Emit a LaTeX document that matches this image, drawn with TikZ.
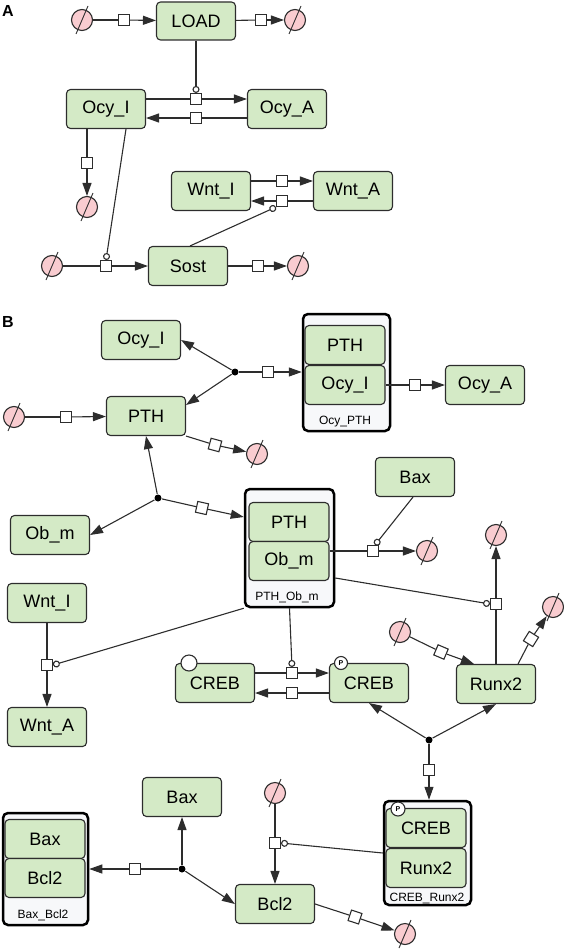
\documentclass[tikz,border=0pt]{standalone}
\usepackage{fontspec}
\setmainfont{Liberation Sans}
\usetikzlibrary{arrows.meta}
\definecolor{spgreen}{RGB}{212,234,198}
\definecolor{sinkpink}{RGB}{249,204,208}
\definecolor{cxfill}{RGB}{247,248,250}
\definecolor{edge}{RGB}{45,45,45}
\begin{document}
\begin{tikzpicture}[x=1pt,y=-1pt,line width=1.1pt,draw=edge,
  >={Triangle[length=13pt,width=9pt]},
  spec/.style={draw=edge,fill=spgreen,rounded corners=4pt,minimum width=79pt,minimum height=39pt,inner sep=0pt,font=\fontsize{18}{20}\selectfont},
  inner/.style={spec,minimum width=80pt},
  cplx/.style={draw=black,fill=cxfill,line width=2.5pt,rectangle,rounded corners=5pt,inner sep=0pt},
  cxlab/.style={inner sep=0pt,font=\fontsize{12}{13}\selectfont},
  sink/.style={circle,draw=edge,fill=sinkpink,minimum size=21pt,inner sep=0pt},
  proc/.style={draw=edge,fill=white,minimum size=11pt,inner sep=0pt},
  dot/.style={circle,fill=black,minimum size=7pt,inner sep=0pt},
  pstate/.style={circle,draw=edge,fill=white,minimum size=13pt,inner sep=0pt,font=\fontsize{7}{7}\selectfont\bfseries},
  mod/.style={-{Circle[length=7pt,fill=white]}},
  panel/.style={font=\fontsize{16}{16}\selectfont\bfseries}]
\useasboundingbox (0,0) rectangle (563,950);
% A
\node[panel] (labA) at (8,11) {A};
\node[spec,minimum height=38pt] (load) at (196,21) {LOAD};
\node[sink] (s1) at (82,20) {};
\node[proc] (p1) at (124,20) {};
\draw (s1) -- (p1); \draw[->] (p1) -- (load);
\node[proc] (p2) at (261,20) {};
\node[sink] (s2) at (295,20) {};
\draw (load) -- (p2); \draw[->] (p2) -- (s2);
\node[spec] (ocyIa) at (106,109) {Ocy\_I};
\node[spec] (ocyAa) at (287,109) {Ocy\_A};
\node[proc] (p3) at (196,99) {};
\node[proc] (p4) at (196,118) {};
\draw (ocyIa.east |- p3) -- (p3); \draw[->] (p3) -- (ocyAa.west |- p3);
\draw (ocyAa.west |- p4) -- (p4); \draw[->] (p4) -- (ocyIa.east |- p4);
\draw[mod] (load) -- (p3);
\node[proc] (p5) at (87,163) {};
\node[sink] (s3) at (87,207) {};
\draw (ocyIa.south -| p5) -- (p5); \draw[->] (p5) -- (s3);
\node[spec] (sost) at (188,266) {Sost};
\node[sink] (s4) at (52,266) {};
\node[proc] (p6) at (106,266) {};
\draw (s4) -- (p6); \draw[->] (p6) -- (sost);
\node[proc] (p7) at (258,266) {};
\node[sink] (s5) at (298,266) {};
\draw (sost) -- (p7); \draw[->] (p7) -- (s5);
\draw[mod] ([xshift=20pt]ocyIa.south) -- (p6.north);
\node[spec] (wntIa) at (211,191) {Wnt\_I};
\node[spec] (wntAa) at (353,191) {Wnt\_A};
\node[proc] (p8) at (282,181) {};
\node[proc] (p9) at (282,201) {};
\draw (wntIa.east |- p8) -- (p8); \draw[->] (p8) -- (wntAa.west |- p8);
\draw (wntAa.west |- p9) -- (p9); \draw[->] (p9) -- (wntIa.east |- p9);
\draw[mod] ([xshift=2pt]sost.north) -- (p9.south west);
% B
\node[panel] (labB) at (8,322) {B};
\node[spec] (ocyIb) at (141,340) {Ocy\_I};
\node[spec] (pthB) at (146,416) {PTH};
\node[cplx,minimum width=87pt,minimum height=117pt] (cxOcy) at (346.5,372.5) {};
\node[inner] (cxOcyP) at (345,345) {PTH};
\node[inner] (cxOcyO) at (345,385) {Ocy\_I};
\node[cxlab] (lOcy) at (345,422) {Ocy\_PTH};
\node[dot] (d1) at (235,372) {};
\draw[->] (d1) -- (ocyIb.east);
\draw[->] (d1) -- ([yshift=-9pt]pthB.north east);
\node[proc] (pb1) at (268,372) {};
\draw (d1) -- (pb1); \draw[->] (pb1) -- (cxOcy.west |- pb1);
\node[spec] (ocyAb) at (485,385) {Ocy\_A};
\node[proc] (pb2) at (415,385) {};
\draw (cxOcyO) -- (pb2); \draw[->] (pb2) -- (ocyAb);
\node[sink] (s6) at (14,417) {};
\node[proc] (pb3) at (66,417) {};
\draw (s6) -- (pb3); \draw[->] (pb3) -- (pthB);
\node[proc,rotate=-15] (pb4) at (215,445) {};
\node[sink] (s7) at (257,454) {};
\draw (pthB.south east) -- (pb4); \draw[->] (pb4) -- (s7);
\node[spec] (obM) at (50,535) {Ob\_m};
\node[cplx,minimum width=89pt,minimum height=118pt] (cxPO) at (289.5,548) {};
\node[inner] (cxPOp) at (289,522) {PTH};
\node[inner] (cxPOo) at (289,561) {Ob\_m};
\node[cxlab] (lPO) at (287,597) {PTH\_Ob\_m};
\node[dot] (d2) at (158,498) {};
\draw[->] (d2) -- (pthB.south);
\draw[->] (d2) -- (obM.east);
\node[proc,rotate=-12.5] (pb5) at (202,508) {};
\draw (d2) -- (pb5); \draw[->] (pb5) -- ([yshift=31pt]cxPO.west);
\node[spec] (baxB) at (415,477) {Bax};
\node[proc] (pb6) at (373,551) {};
\node[sink] (s8) at (427,551) {};
\draw (cxPOo.east |- pb6) -- (pb6); \draw[->] (pb6) -- (s8);
\draw[mod] ([xshift=-2pt]baxB.south) -- ([xshift=2pt]pb6.north);
\node[spec] (runx) at (496,684) {Runx2};
\node[proc] (pb7) at (496,604) {};
\node[sink] (s9) at (496,535) {};
\draw (runx) -- (pb7); \draw[->] (pb7) -- (s9);
\draw[mod] ([yshift=-30pt]cxPO.east) -- (pb7.west);
\node[spec] (wntIb) at (47,603) {Wnt\_I};
\node[spec] (wntAb) at (47,727) {Wnt\_A};
\node[proc] (pb8) at (47,665) {};
\draw (wntIb) -- (pb8); \draw[->] (pb8) -- (wntAb);
\draw[mod] (cxPO.south west) -- (pb8.east);
\node[spec] (crebU) at (215,683) {CREB};
\node[spec] (crebP) at (369,683) {CREB};
\node[circle,draw=edge,fill=white,minimum size=16pt,inner sep=0pt] (uiU) at (189,663) {};
\node[pstate] (svP) at (341,663) {P};
\node[proc] (pb9) at (292,673) {};
\node[proc] (pb10) at (292,693) {};
\draw (crebU.east |- pb9) -- (pb9); \draw[->] (pb9) -- (crebP.west |- pb9);
\draw (crebP.west |- pb10) -- (pb10); \draw[->] (pb10) -- (crebU.east |- pb10);
\draw[mod] (cxPO.south) -- (pb9.north);
\node[sink] (s10) at (400,632) {};
\node[proc,rotate=-23] (pb11) at (441,652) {};
\draw (s10) -- (pb11); \draw[->] (pb11) -- ([xshift=18pt]runx.north west);
\node[proc,rotate=58] (pb12) at (531,639) {};
\node[sink] (s11) at (553,607) {};
\draw ([xshift=-18pt]runx.north east) -- (pb12); \draw[->] (pb12) -- (s11);
\node[cplx,minimum width=87pt,minimum height=104pt] (cxCR) at (427.5,853) {};
\node[inner] (cxCRc) at (426,828) {CREB};
\node[inner] (cxCRr) at (426,868) {Runx2};
\node[cxlab] (lCR) at (427,898) {CREB\_Runx2};
\node[pstate,minimum size=14pt] (svCR) at (398,809) {P};
\node[dot] (d3) at (429,740) {};
\draw[->] (d3) -- (crebP.south);
\draw[->] (d3) -- (runx.south);
\node[proc] (pb13) at (429,770) {};
\draw (d3) -- (pb13); \draw[->] (pb13) -- (cxCR.north -| pb13);
\node[cplx,minimum width=85pt,minimum height=112pt] (cxBB) at (45.5,869) {};
\node[inner] (cxBBa) at (45,839) {Bax};
\node[inner] (cxBBb) at (45,878) {Bcl2};
\node[cxlab] (lBB) at (43,915) {Bax\_Bcl2};
\node[spec] (baxC) at (182,797) {Bax};
\node[spec] (bcl) at (275,904) {Bcl2};
\node[dot] (d4) at (182,869) {};
\draw[->] (d4) -- (baxC);
\draw[->] (d4) -- (bcl.west);
\node[proc] (pb14) at (135,869) {};
\draw (d4) -- (pb14); \draw[->] (pb14) -- (cxBB.east);
\node[sink] (s12) at (275,793) {};
\node[proc] (pb15) at (275,843) {};
\draw (s12) -- (pb15); \draw[->] (pb15) -- (bcl);
\draw[mod] (cxCR.west) -- (pb15.east);
\node[proc,rotate=-18] (pb16) at (355,917) {};
\node[sink] (s13) at (405,934) {};
\draw (bcl.east) -- (pb16); \draw[->] (pb16) -- (s13);
% slashes
\foreach \i in {1,...,13}
  \draw[line width=0.9pt] (s\i.center) +(-6,14) -- +(6,-14);
\end{tikzpicture}
\end{document}
